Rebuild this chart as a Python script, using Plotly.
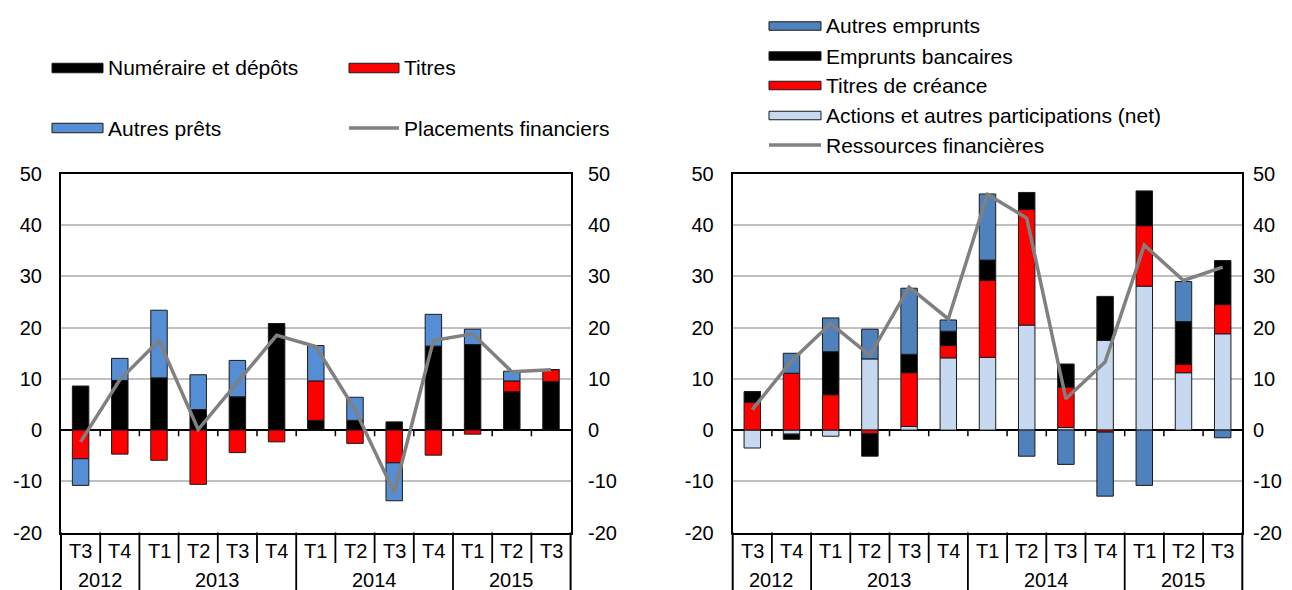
import plotly.graph_objects as go

# ---------------- data ----------------
quarters = ["T3", "T4", "T1", "T2", "T3", "T4", "T1", "T2", "T3", "T4", "T1", "T2", "T3"]
years = ["2012", "2013", "2014", "2015"]
year_counts = [2, 4, 4, 3]

# left chart: placements financiers
numeraire = [8.6, 9.7, 10.2, 4.0, 6.5, 20.8, 1.9, 1.9, 1.6, 16.4, 16.7, 7.5, 9.5]
titres = [-5.6, -4.7, -5.9, -10.6, -4.4, -2.3, 7.7, -2.6, -6.4, -4.9, -0.8, 2.1, 2.3]
autres_prets = [-5.2, 4.3, 13.2, 6.8, 7.1, 0.0, 6.9, 4.5, -7.4, 6.2, 3.0, 1.9, 0.0]
placements = [-2.3, 9.8, 17.5, 0.1, 9.3, 18.5, 16.3, 4.0, -12.2, 17.5, 18.8, 11.4, 11.8]

# right chart: ressources financieres
actions = [-3.5, -0.8, -1.2, 13.9, 0.7, 14.1, 14.2, 20.5, 0.5, 17.5, 28.1, 11.2, 18.8]
titres_creance = [5.4, 11.1, 6.9, -0.7, 10.5, 2.4, 15.0, 22.6, 7.9, -0.4, 11.8, 1.6, 5.7]
emprunts_bancaires = [2.1, -1.0, 8.4, -4.4, 3.6, 2.8, 4.0, 3.3, 4.5, 8.6, 6.8, 8.4, 8.6]
autres_emprunts = [0.0, 3.9, 6.6, 5.8, 12.9, 2.2, 12.9, -5.1, -6.7, -12.5, -10.8, 7.8, -1.5]
ressources = [4.0, 13.5, 20.8, 14.6, 27.9, 21.7, 46.0, 41.4, 6.1, 13.3, 36.1, 29.2, 31.8]

y_ticks = [-20, -10, 0, 10, 20, 30, 40, 50]
y_ticktext = [str(v) for v in y_ticks]
y_range = [-20, 50]

# ---------------- styling ----------------
OFF = 8  # page body margin
W, H = 1292, 590
FONT = "Liberation Sans, Arial, sans-serif"
FS = 20
FS_LEG = 21
BLACK = "#000000"
RED = "#FF0000"
BLUE_L = "#558ED5"
BLUE_R = "#4F81BD"
LIGHT = "#C6D9F1"
GRAY = "#808080"
OUTLINE = "#1a1a1a"


def px(xp):
    return (xp - OFF) / W


def py(yp):
    return 1 - (yp - OFF) / H


PLOT_TOP, PLOT_BOT = 174.0, 532.5
LEFT_DOM = [px(61), px(570.6)]
RIGHT_DOM = [px(732.7), px(1242.3)]
Y_DOM = [py(PLOT_BOT), py(PLOT_TOP)]

xpos = list(range(len(quarters)))
BW = 0.42

fig = go.Figure()


def bar(x, y, color, name, xa, ya):
    return go.Bar(x=x, y=y, name=name, width=BW, marker=dict(color=color, line=dict(color=OUTLINE, width=1)),
                  xaxis=xa, yaxis=ya, showlegend=False)


fig.add_trace(bar(xpos, numeraire, BLACK, "Numéraire et dépôts", "x", "y"))
fig.add_trace(bar(xpos, titres, RED, "Titres", "x", "y"))
fig.add_trace(bar(xpos, autres_prets, BLUE_L, "Autres prêts", "x", "y"))
fig.add_trace(go.Scatter(x=xpos, y=placements, mode="lines", name="Placements financiers",
                         line=dict(color=GRAY, width=3.5), xaxis="x", yaxis="y", showlegend=False))

fig.add_trace(bar(xpos, actions, LIGHT, "Actions et autres participations (net)", "x2", "y3"))
fig.add_trace(bar(xpos, titres_creance, RED, "Titres de créance", "x2", "y3"))
fig.add_trace(bar(xpos, emprunts_bancaires, BLACK, "Emprunts bancaires", "x2", "y3"))
fig.add_trace(bar(xpos, autres_emprunts, BLUE_R, "Autres emprunts", "x2", "y3"))
fig.add_trace(go.Scatter(x=xpos, y=ressources, mode="lines", name="Ressources financières",
                         line=dict(color=GRAY, width=3.5), xaxis="x2", yaxis="y3", showlegend=False))

# empty helper traces so the right-hand value axes are drawn
fig.add_trace(go.Scatter(x=[None], y=[None], xaxis="x", yaxis="y2", showlegend=False, hoverinfo="skip"))
fig.add_trace(go.Scatter(x=[None], y=[None], xaxis="x2", yaxis="y4", showlegend=False, hoverinfo="skip"))

xa_common = dict(range=[-0.5, len(quarters) - 0.5], showline=True, mirror=True, linecolor=BLACK, linewidth=2,
                 showticklabels=False, ticks="", showgrid=False, zeroline=False, automargin=False, fixedrange=True)
ya_common = dict(range=y_range, tickvals=y_ticks, ticktext=y_ticktext, showgrid=True, gridcolor="#BFBFBF",
                 gridwidth=2, showline=True, mirror=True, linecolor=BLACK, linewidth=2, zeroline=True,
                 zerolinecolor=BLACK, zerolinewidth=1.5, ticks="", ticklabelstandoff=13, automargin=False,
                 tickfont=dict(family=FONT, size=FS, color=BLACK), domain=Y_DOM)
ya_over = dict(range=y_range, tickvals=y_ticks, ticktext=y_ticktext, showgrid=False, showline=False,
               zeroline=False, ticks="", side="right", anchor="free", automargin=False,
               ticklabeloverflow="allow", tickfont=dict(family=FONT, size=FS, color=BLACK))

fig.update_layout(
    template="none",
    width=W, height=H,
    margin=dict(l=0, r=0, t=0, b=0),
    paper_bgcolor="white", plot_bgcolor="white",
    barmode="relative",
    font=dict(family=FONT, size=FS, color=BLACK),
    showlegend=False,
    xaxis=dict(domain=LEFT_DOM, anchor="y", **xa_common),
    xaxis2=dict(domain=RIGHT_DOM, anchor="y3", **xa_common),
    yaxis=dict(anchor="x", **ya_common),
    yaxis2=dict(overlaying="y", position=px(587), **ya_over),
    yaxis3=dict(anchor="x2", **ya_common),
    yaxis4=dict(overlaying="y3", position=px(1252), **ya_over),
)

shapes = []
annotations = []

# category axis decorations (two-level labels with separators)
Q_ROW_BOT = 563.0
Y_ROW_BOT = 600.0
year_bounds = []
acc = 0
for c in year_counts[:-1]:
    acc += c
    year_bounds.append(acc - 0.5)

for xr, yr, dom in (("x", "y", LEFT_DOM), ("x2", "y3", RIGHT_DOM)):
    n = len(quarters)
    for i in range(n - 1):
        b = i + 0.5
        bottom = Y_ROW_BOT if b in year_bounds else Q_ROW_BOT
        shapes.append(dict(type="line", xref=xr, yref="paper", x0=b, x1=b, y0=py(PLOT_BOT), y1=py(bottom),
                           line=dict(color=BLACK, width=1.8)))
        # small tick marks under the zero line
        shapes.append(dict(type="line", xref=xr, yref=yr, x0=b, x1=b, y0=0, y1=-1.2,
                           line=dict(color=BLACK, width=1.5)))
    for edge in (0, 1):
        shapes.append(dict(type="line", xref=xr + " domain", yref="paper", x0=edge, x1=edge,
                           y0=py(PLOT_BOT), y1=py(Y_ROW_BOT), line=dict(color=BLACK, width=2)))
    for i, q in enumerate(quarters):
        annotations.append(dict(text=q, xref=xr, yref="paper", x=i, y=py(550.5), showarrow=False,
                                xanchor="center", yanchor="middle", font=dict(family=FONT, size=FS, color=BLACK)))
    start = 0
    for yname, c in zip(years, year_counts):
        annotations.append(dict(text=yname, xref=xr, yref="paper", x=start + (c - 1) / 2, y=py(579.5),
                                showarrow=False, xanchor="center", yanchor="middle",
                                font=dict(family=FONT, size=FS, color=BLACK)))
        start += c


# custom legends
def legend_box(x0, x1, yc, color, label, kind="bar", h=9.5):
    if kind == "bar":
        shapes.append(dict(type="rect", xref="paper", yref="paper", x0=px(x0), x1=px(x1),
                           y0=py(yc + h / 2), y1=py(yc - h / 2), fillcolor=color,
                           line=dict(color=OUTLINE, width=1)))
    else:
        shapes.append(dict(type="line", xref="paper", yref="paper", x0=px(x0), x1=px(x1),
                           y0=py(yc), y1=py(yc), line=dict(color=color, width=3.5)))
    annotations.append(dict(text=label, xref="paper", yref="paper", x=px(x1 + 3), y=py(yc), showarrow=False,
                            xanchor="left", yanchor="middle", font=dict(family=FONT, size=FS_LEG, color=BLACK)))


legend_box(52, 103, 68, BLACK, "Numéraire et dépôts")
legend_box(349, 399, 68, RED, "Titres")
legend_box(52, 103, 128, BLUE_L, "Autres prêts")
legend_box(349, 399, 128, GRAY, "Placements financiers", kind="line")

legend_box(769, 821, 26, BLUE_R, "Autres emprunts", h=8.5)
legend_box(769, 821, 56, BLACK, "Emprunts bancaires", h=8.5)
legend_box(769, 821, 85.5, RED, "Titres de créance", h=8.5)
legend_box(769, 821, 115.5, LIGHT, "Actions et autres participations (net)", h=8.5)
legend_box(769, 821, 145, GRAY, "Ressources financières", kind="line")

fig.update_layout(shapes=shapes, annotations=annotations)

fig.write_html("out.html")
